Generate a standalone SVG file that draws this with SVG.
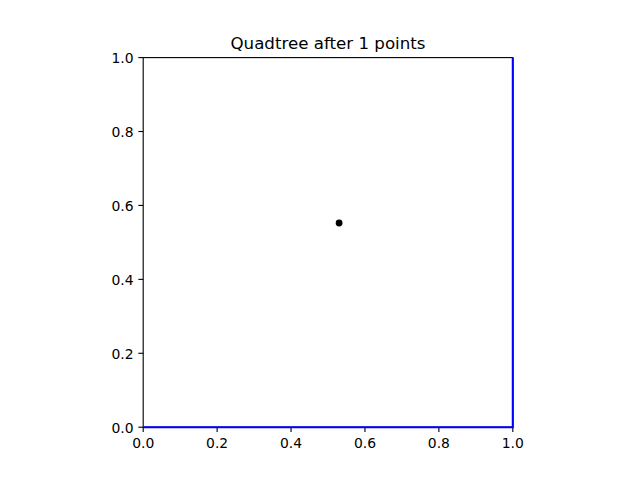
<svg xmlns="http://www.w3.org/2000/svg" width="640" height="480" viewBox="0 0 640 480">
<style>
text{font-family:"DejaVu Sans",sans-serif;fill:#000}
.t{font-size:13.9px}
.xl{text-anchor:middle}
.yl{text-anchor:end}
.tick{stroke:#000;stroke-width:1.11}
</style>
<rect width="640" height="480" fill="#fff"/>
<text x="328" y="49.3" font-size="16.67" text-anchor="middle">Quadtree after 1 points</text>
<g id="axes">
<rect x="143.2" y="57.6" width="369.6" height="369.6" fill="none" stroke="#000" stroke-width="1.11"/>
<g class="tick">
<line x1="143.2" y1="427.2" x2="143.2" y2="432.06"/>
<line x1="217.12" y1="427.2" x2="217.12" y2="432.06"/>
<line x1="291.04" y1="427.2" x2="291.04" y2="432.06"/>
<line x1="364.96" y1="427.2" x2="364.96" y2="432.06"/>
<line x1="438.88" y1="427.2" x2="438.88" y2="432.06"/>
<line x1="512.8" y1="427.2" x2="512.8" y2="432.06"/>
<line x1="143.2" y1="427.2" x2="138.34" y2="427.2"/>
<line x1="143.2" y1="353.28" x2="138.34" y2="353.28"/>
<line x1="143.2" y1="279.36" x2="138.34" y2="279.36"/>
<line x1="143.2" y1="205.44" x2="138.34" y2="205.44"/>
<line x1="143.2" y1="131.52" x2="138.34" y2="131.52"/>
<line x1="143.2" y1="57.6" x2="138.34" y2="57.6"/>
</g>
<g class="t xl">
<text x="143.2" y="447.5">0.0</text>
<text x="217.12" y="447.5">0.2</text>
<text x="291.04" y="447.5">0.4</text>
<text x="364.96" y="447.5">0.6</text>
<text x="438.88" y="447.5">0.8</text>
<text x="512.8" y="447.5">1.0</text>
</g>
<g class="t yl">
<text x="133.5" y="432.5">0.0</text>
<text x="133.5" y="358.6">0.2</text>
<text x="133.5" y="284.7">0.4</text>
<text x="133.5" y="210.7">0.6</text>
<text x="133.5" y="136.8">0.8</text>
<text x="133.5" y="62.9">1.0</text>
</g>
</g>
<g id="connectors">
<polyline points="143.2,427.2 512.8,427.2 512.8,57.6" fill="none" stroke="#0000ff" stroke-width="2.08"/>
</g>
<g id="point">
<circle cx="339.1" cy="223" r="3.4" fill="#000"/>
</g>
</svg>
